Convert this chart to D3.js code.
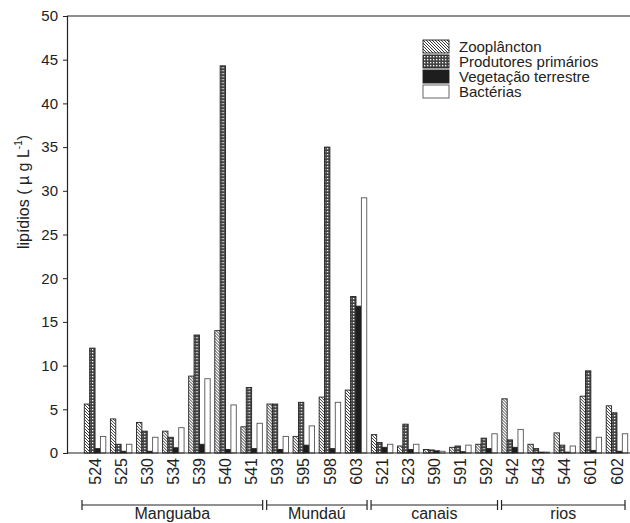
<!DOCTYPE html>
<html>
<head>
<meta charset="utf-8">
<script src="https://cdn.jsdelivr.net/npm/d3@7/dist/d3.min.js"></script>
<style>
    body { margin: 0; background: #fff; }
    svg { font-family: "Liberation Sans", Arial, sans-serif; }
</style>
</head>
<body>
<svg id="chart" width="630" height="523"></svg>
<script>
// Station codes (x categories)
let stations = ["524", "525", "530", "534", "539", "540", "541",
    "593", "595", "598", "603",
    "521", "523", "590", "591", "592",
    "542", "543", "544", "601", "602"];

// lipid values per source (ug/L)
let zooplancton = [5.6, 3.9, 3.5, 2.5, 8.8, 14.0, 3.0, 5.6, 1.9, 6.4, 7.2, 2.1, 0.8, 0.4, 0.65, 1.0, 6.2, 1.0, 2.3, 6.5, 5.4];
let produtores = [12.0, 1.0, 2.5, 1.8, 13.5, 44.3, 7.5, 5.6, 5.8, 35.0, 17.9, 1.2, 3.3, 0.35, 0.8, 1.7, 1.5, 0.5, 0.9, 9.4, 4.6];
let vegetacao = [0.5, 0.2, 0.2, 0.6, 1.0, 0.4, 0.5, 0.4, 0.9, 0.5, 16.8, 0.65, 0.4, 0.25, 0.15, 0.5, 0.65, 0.1, 0.1, 0.3, 0.2];
let bacterias = [1.9, 1.0, 1.8, 2.9, 8.5, 5.5, 3.4, 1.9, 3.1, 5.8, 29.2, 1.0, 1.0, 0.2, 0.9, 2.2, 2.7, 0.1, 0.8, 1.8, 2.2];

let seriesNames = ["Zooplâncton", "Produtores primários", "Vegetação terrestre", "Bactérias"];
let seriesFills = ["url(#hatch)", "url(#checker)", "#1e1e1e", "#fff"];

// Site groups under the axis
let groupNames = ["Manguaba", "Mundaú", "canais", "rios"];
let groupFirst = ["524", "593", "521", "542"];
let groupLast = ["541", "603", "592", "602"];

let yTicks = [0, 5, 10, 15, 20, 25, 30, 35, 40, 45, 50];

let svg = d3.select("#chart");

let plotLeft = 67, plotRight = 630, plotTop = 16, plotBottom = 453;

let x0 = d3.scaleBand().domain(stations).range([82, 630]).padding(0);
let x1 = d3.scaleBand().domain(seriesNames).range([2.3, 23.8]).padding(0);
let y = d3.scaleLinear().domain([0, 50]).range([plotBottom, plotTop]);

// Patterns
let defs = svg.append("defs");
let hatch = defs.append("pattern")
    .attr("id", "hatch")
    .attr("patternUnits", "userSpaceOnUse")
    .attr("width", 3).attr("height", 3);
hatch.append("rect").attr("width", 3).attr("height", 3).attr("fill", "#fff");
hatch.append("path")
    .attr("d", "M-1,-1 L4,4 M-1,2 L1,4 M2,-1 L4,1")
    .attr("stroke", "#222")
    .attr("stroke-width", 0.9);

let checker = defs.append("pattern")
    .attr("id", "checker")
    .attr("patternUnits", "userSpaceOnUse")
    .attr("width", 3).attr("height", 3);
checker.append("rect").attr("width", 3).attr("height", 3).attr("fill", "#444");
checker.append("rect").attr("x", 1).attr("y", 1).attr("width", 1.3).attr("height", 1.3).attr("fill", "#fff");

// Bars
let rows = stations.map(function (s, i) {
    return {
        station: s,
        values: [zooplancton[i], produtores[i], vegetacao[i], bacterias[i]]
    };
});

let groups = svg.append("g").selectAll("g")
    .data(rows)
    .enter().append("g")
    .attr("transform", d => "translate(" + x0(d.station) + ",0)");

groups.selectAll("rect")
    .data(d => d.values.map((v, k) => ({ key: seriesNames[k], value: v, k: k })))
    .enter().append("rect")
    .attr("x", d => x1(d.key))
    .attr("y", d => y(d.value))
    .attr("width", x1.bandwidth())
    .attr("height", d => plotBottom - y(d.value))
    .attr("fill", d => seriesFills[d.k])
    .attr("stroke", d => d.k == 3 ? "#555" : "#222")
    .attr("stroke-width", 0.9);

// Axis frame: left axis, baseline, top line
svg.append("line")
    .attr("x1", plotLeft).attr("x2", plotRight).attr("y1", plotBottom).attr("y2", plotBottom)
    .attr("stroke", "#222").attr("stroke-width", 1.2);
svg.append("line")
    .attr("x1", plotLeft).attr("x2", plotRight).attr("y1", plotTop).attr("y2", plotTop)
    .attr("stroke", "#222").attr("stroke-width", 1.2);

let yAxis = svg.append("g")
    .attr("transform", "translate(" + plotLeft + ",0)")
    .call(d3.axisLeft(y).tickValues(yTicks).tickSize(4).tickPadding(5));
yAxis.select(".domain").attr("stroke", "#222").attr("stroke-width", 1.2);
yAxis.selectAll(".tick line").attr("stroke", "#222");
yAxis.selectAll("text")
    .attr("font-size", 15)
    .attr("font-family", "Liberation Sans, Arial, sans-serif")
    .attr("fill", "#222");

// Y label
let yLabel = svg.append("text")
    .attr("transform", "translate(29,192) rotate(-90)")
    .attr("text-anchor", "middle")
    .attr("font-size", 16)
    .attr("fill", "#222");
yLabel.append("tspan").text("lipídios  ( µ g L");
yLabel.append("tspan").attr("font-size", 10).attr("dy", -7).text("-1");
yLabel.append("tspan").attr("dy", 7).text(")");

// X tick labels (rotated)
svg.append("g").selectAll("text")
    .data(stations)
    .enter().append("text")
    .attr("transform", d => "translate(" + (x0(d) + x0.bandwidth() / 2) + ",458) rotate(-90)")
    .attr("text-anchor", "end")
    .attr("dy", "0.35em")
    .attr("font-size", 16)
    .attr("fill", "#222")
    .text(d => d);

// Group brackets
let bracketY = 505;
let bracketG = svg.append("g");
groupNames.forEach(function (name, i) {
    let xa = x0(groupFirst[i]) + (i == 0 ? 0 : 2);
    let xb = x0(groupLast[i]) + x0.bandwidth() - (i == groupNames.length - 1 ? 5 : 2);
    bracketG.append("line")
        .attr("x1", xa).attr("x2", xb).attr("y1", bracketY).attr("y2", bracketY)
        .attr("stroke", "#222").attr("stroke-width", 1);
    [xa, xb].forEach(function (xx) {
        bracketG.append("line")
            .attr("x1", xx).attr("x2", xx).attr("y1", bracketY - 5).attr("y2", bracketY + 5)
            .attr("stroke", "#222").attr("stroke-width", 1.2);
    });
    bracketG.append("text")
        .attr("x", (xa + xb) / 2)
        .attr("y", 519)
        .attr("text-anchor", "middle")
        .attr("font-size", 16)
        .attr("fill", "#222")
        .text(name);
});

// Legend
let legend = svg.append("g").attr("transform", "translate(423,40)");
seriesNames.forEach(function (name, i) {
    legend.append("rect")
        .attr("x", 0).attr("y", i * 15)
        .attr("width", 26).attr("height", 13)
        .attr("fill", seriesFills[i])
        .attr("stroke", i == 3 ? "#555" : "#222")
        .attr("stroke-width", 0.9);
    legend.append("text")
        .attr("x", 36).attr("y", i * 15 + 7)
        .attr("dy", "0.35em")
        .attr("font-size", 15)
        .attr("fill", "#222")
        .text(name);
});
</script>
</body>
</html>
